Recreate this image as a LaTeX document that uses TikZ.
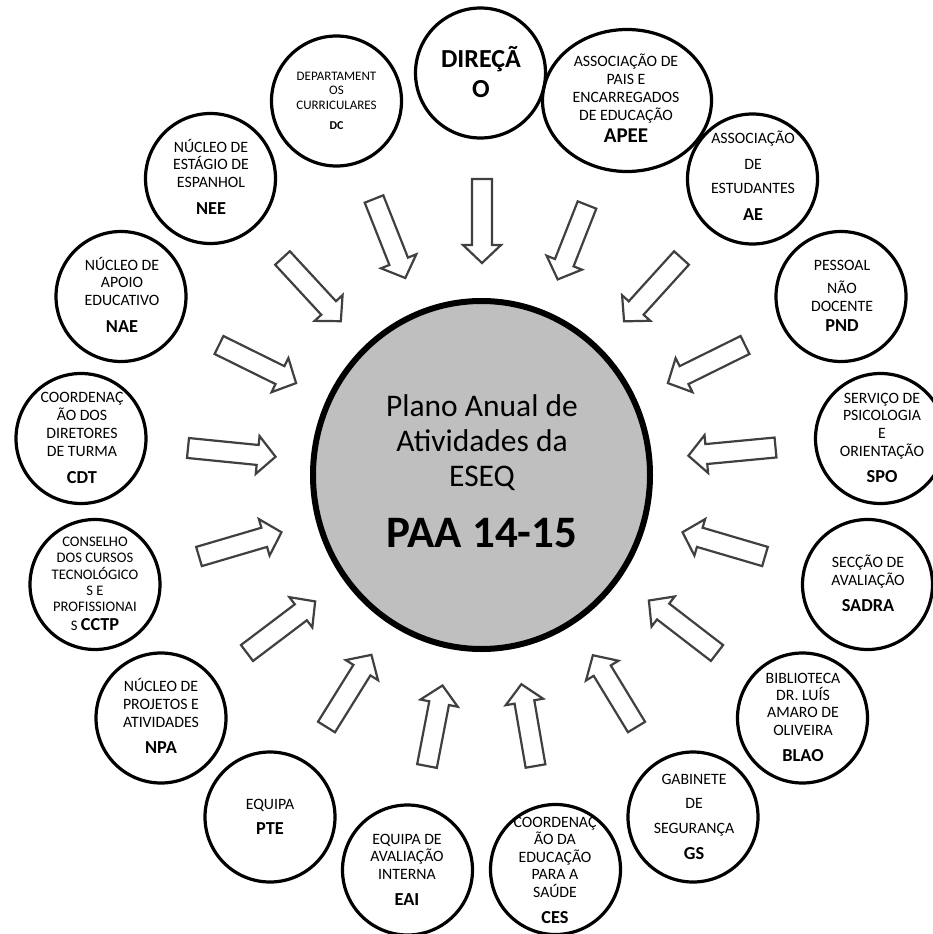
\documentclass[tikz,border=0pt]{standalone}
\usepackage{fontspec}
\setmainfont{Carlito}
\usetikzlibrary{shapes.geometric}
\newcommand{\bl}[1]{{\fontsize{18.3}{18.3}\selectfont\bfseries #1}}
\begin{document}
\begin{tikzpicture}[x=1pt,y=-1pt,
  org/.style={circle,draw=black,line width=3.2pt,minimum size=130pt,inner sep=0pt},
  lbl/.style={align=center,inner sep=0pt,text=black},
  rg/.style={font=\fontsize{15.8}{#1}\selectfont},
  blockarrow/.style={draw=black!75,fill=white,line width=2.2pt,line join=miter},
]
\useasboundingbox (0,0) rectangle (932,934);
\fill[white] (0,0) rectangle (932,934);
% central ellipse
\node[ellipse,draw=black,fill=black!25,line width=6pt,minimum width=337pt,minimum height=348pt,inner sep=0pt] (paa) at (481.5,475) {};
\node[lbl,font=\fontsize{31.5}{35}\selectfont] (paat) at (482,471.5)
  {Plano Anual de\\Atividades da\\ESEQ\\[26pt]{\fontsize{45}{45}\selectfont\bfseries PAA 14-15}};
% outer circles
\node[org] (dc) at (336.5,101) {};
\node[org] (dir) at (480.5,73) {};
\node[ellipse,draw=black,line width=3.2pt,minimum width=169pt,minimum height=142pt,inner sep=0pt] (apee) at (627,100.5) {};
\node[org] (ae) at (752.5,179) {};
\node[org] (pnd) at (841,296.5) {};
\node[org] (spo) at (880.5,438.5) {};
\node[org] (sadra) at (867.5,584.5) {};
\node[org] (blao) at (802.5,718) {};
\node[org] (gs) at (693,817) {};
\node[org] (ces) at (555.5,869.5) {};
\node[org] (eai) at (407.5,870) {};
\node[org] (pte) at (270,817) {};
\node[org] (npa) at (161,718) {};
\node[org] (cctp) at (95,584.5) {};
\node[org] (cdt) at (81,438.5) {};
\node[org] (nae) at (121,296.5) {};
\node[org] (nee) at (210.5,178.5) {};
% texts
\node[lbl,font=\fontsize{13}{14.5}\selectfont] (dct) at (336.5,100.9)
  {DEPARTAMENT\\OS\\CURRICULARES\\[6.2pt]{\fontsize{12}{12}\selectfont\bfseries DC}};
\node[lbl,font=\fontsize{26}{30}\selectfont\bfseries] (dirt) at (481,71.6) {DIREÇÃ\\O};
\node[lbl,rg=17.7] (apeet) at (626,98.5)
  {ASSOCIAÇÃO DE\\PAIS E\\ENCARREGADOS\\DE EDUCAÇÃO\\[4.9pt]{\fontsize{21}{21}\selectfont\bfseries APEE}};
\node[lbl,rg=25] (aet) at (753,176)
  {ASSOCIAÇÃO\\[1pt]DE\\[-1pt]ESTUDANTES\\[1.8pt]\bl{AE}};
\node[lbl,rg=17.5] (pndt) at (842,295.9)
  {PESSOAL\\[5.8pt]NÃO\\[0.9pt]DOCENTE\\[2.3pt]\bl{PND}};
\node[lbl,rg=17.7] (spot) at (882,437.9)
  {SERVIÇO DE\\PSICOLOGIA\\E\\ORIENTAÇÃO\\[9.1pt]\bl{SPO}};
\node[lbl,rg=18] (sadrat) at (868,583.5)
  {SECÇÃO DE\\AVALIAÇÃO\\[7.8pt]\bl{SADRA}};
\node[lbl,rg=17.3] (blaot) at (803,717.4)
  {BIBLIOTECA\\DR. LUÍS\\AMARO DE\\OLIVEIRA\\[9.5pt]\bl{BLAO}};
\node[lbl,rg=24.5] (gst) at (694,816.9)
  {GABINETE\\DE\\SEGURANÇA\\[2.3pt]\bl{GS}};
\node[lbl,rg=17.5] (cest) at (555,870.4)
  {COORDENAÇ\\ÃO DA\\EDUCAÇÃO\\PARA A\\SAÚDE\\[9.3pt]\bl{CES}};
\node[lbl,rg=17.5] (eait) at (407,869.9)
  {EQUIPA DE\\AVALIAÇÃO\\INTERNA\\[9.3pt]\bl{EAI}};
\node[lbl,rg=17.5] (ptet) at (270,816.9)
  {EQUIPA\\[8.3pt]\bl{PTE}};
\node[lbl,rg=18] (npat) at (161,715.5)
  {NÚCLEO DE\\PROJETOS E\\ATIVIDADES\\[7.8pt]\bl{NPA}};
\node[lbl,font=\fontsize{14.6}{16.3}\selectfont] (cctpt) at (95,584.1)
  {CONSELHO\\DOS CURSOS\\TECNOLÓGICO\\S E\\PROFISSIONAI\\[2.9pt]S \bl{CCTP}};
\node[lbl,rg=17.7] (cdtt) at (82,437.9)
  {COORDENAÇ\\ÃO DOS\\DIRETORES\\DE TURMA\\[9.3pt]\bl{CDT}};
\node[lbl,rg=17.5] (naet) at (122,295)
  {NÚCLEO DE\\APOIO\\EDUCATIVO\\[10.3pt]\bl{NAE}};
\node[lbl,rg=17.5] (neet) at (211,177)
  {NÚCLEO DE\\ESTÁGIO DE\\ESPANHOL\\[10.3pt]\bl{NEE}};
% block arrows (tail point, direction, length)
\foreach \n/\x/\y/\a/\l in {
  1/482/179/-90/84, 2/374/199/-68.4/85, 3/282.5/258/-47.3/86,
  4/587/205/-111.5/80, 5/681.5/258/-132.2/85.5, 6/219/345/-26.3/86,
  7/188/448/-5.7/88, 8/199/556.5/16.4/86, 9/247/653/37.1/85.5,
  10/326.5/727/58.1/85, 11/427/766/79.1/82, 12/535.5/766/99.8/83,
  13/636.5/727/121.3/84, 14/717/653/142.4/86, 15/765/556.5/163.6/86,
  16/775.5/447.5/-174.6/87.5, 17/745/345/-153.7/86}{
  \coordinate (t\n) at (\x,\y);
  \begin{scope}[shift={(t\n)},rotate=\a]
    \draw[blockarrow] (0,-10) -- (\l-18,-10) -- (\l-18,-19) -- (\l,0)
      -- (\l-18,19) -- (\l-18,10) -- (0,10) -- cycle;
  \end{scope}
}
\end{tikzpicture}
\end{document}
